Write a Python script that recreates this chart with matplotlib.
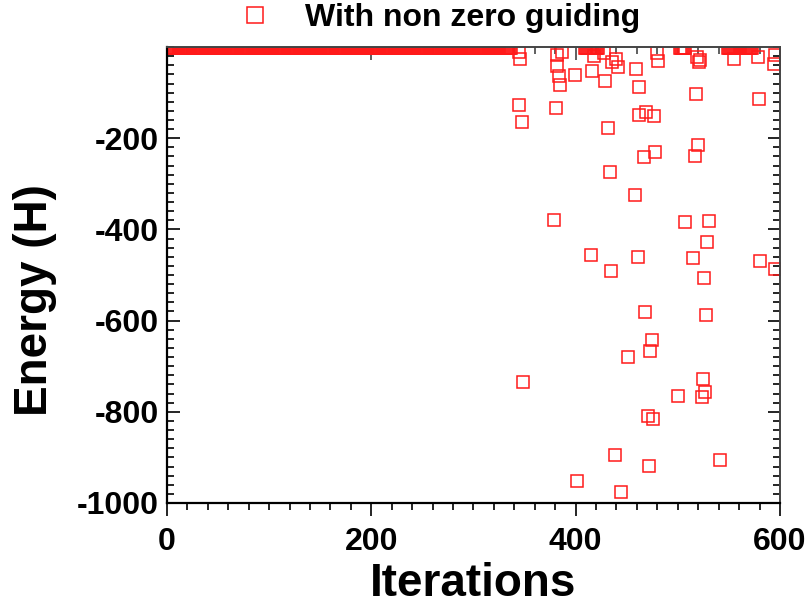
import numpy as np
import matplotlib
matplotlib.use("Agg")
import matplotlib.pyplot as plt
from matplotlib.ticker import MultipleLocator

plt.rcParams['font.family'] = ['Liberation Sans', 'DejaVu Sans']
plt.rcParams['font.weight'] = 'bold'
plt.rcParams['axes.unicode_minus'] = False

# runs of iterations where the energy stays at about zero
flat_runs = [(0, 337), (409, 422), (502, 507), (549, 573)]
flat_energy = -3.0

# scattered iterations with a non zero energy
iters = [345.0, 345.5, 386.3, 382.0, 383.4, 384.8, 381.7, 399.6, 416.2, 417.6,
         427.4, 428.5, 435.5, 441.6, 439.8, 459.3, 462.5, 479.6, 480.8, 518.7,
         520.3, 521.9, 517.5, 554.7, 578.5, 579.2, 594.1, 595.0,
         344.5, 347.5, 380.7, 431.3, 433.6, 462.2, 468.5, 476.7, 466.6, 477.6,
         516.8, 519.4, 458.4, 378.8, 507.3, 530.5, 528.5, 414.7, 460.7, 514.5,
         580.4, 595.1, 434.6, 525.6, 467.8, 527.8, 474.8, 472.8, 451.5, 348.4,
         524.6, 526.3, 523.6, 500.1, 470.7, 475.6, 438.5, 541.5, 471.8, 401.6,
         444.6]
energy = [-9.9, -25.7, -11.6, -40.6, -63.6, -83.3, -17.5, -62.1, -52.6, -19.7,
          -12.7, -75.0, -31.8, -44.3, -25.7, -47.8, -87.7, -13.2, -30.3, -21.9,
          -32.9, -27.4, -103.1, -26.8, -20.8, -113.4, -37.9, -17.5,
          -127.9, -163.8, -134.4, -176.5, -273.7, -149.8, -142.1, -152.2, -241.9, -229.6,
          -239.7, -215.6, -325.2, -378.7, -383.8, -381.6, -428.3, -455.5, -460.5, -462.1,
          -470.0, -487.5, -491.2, -506.6, -580.5, -587.1, -642.5, -667.3, -679.8, -735.3,
          -728.7, -756.6, -767.5, -766.0, -809.2, -815.8, -894.1, -906.4, -918.9, -951.1,
          -975.9]

x_flat = np.concatenate([np.arange(a, b + 1) for a, b in flat_runs])
y_flat = np.full(x_flat.shape, flat_energy)
x_all = np.concatenate([x_flat, iters])
y_all = np.concatenate([y_flat, energy])

fig = plt.figure(figsize=(8.07, 6.06), dpi=100)
ax = fig.add_axes([0.2069, 0.170, 0.7596, 0.7524])

line, = ax.plot(x_all, y_all, linestyle='none', marker='s', markersize=9.2,
                markerfacecolor='none', markeredgecolor='#ff1a1a',
                markeredgewidth=1.1, label='With non zero guiding')

ax.set_xlim(0, 600)
ax.set_ylim(-1000, 0)
ax.set_xticks([0, 200, 400, 600])
ax.set_yticks([-1000, -800, -600, -400, -200])
ax.xaxis.set_minor_locator(MultipleLocator(20))
ax.yaxis.set_minor_locator(MultipleLocator(20))

# bottom ticks outward, left/right inward
ax.tick_params(axis='both', which='both', labelsize=23, width=1.2)
ax.tick_params(axis='y', which='both', direction='in', left=True, right=True, pad=6)
ax.tick_params(axis='x', which='both', direction='out', bottom=True, top=False, pad=8)
ax.tick_params(which='major', length=9)
ax.tick_params(which='minor', length=5)

# inward ticks along the top edge
top = ax.secondary_xaxis('top')
top.set_xticks([0, 200, 400, 600])
top.xaxis.set_minor_locator(MultipleLocator(20))
top.tick_params(which='both', direction='in', labeltop=False, width=1.2,
                color='#444444')
top.tick_params(which='major', length=9)
top.tick_params(which='minor', length=5)
top.spines['top'].set_visible(False)

for side in ('left', 'bottom'):
    ax.spines[side].set_linewidth(1.6)
    ax.spines[side].set_color('black')
for side in ('top', 'right'):
    ax.spines[side].set_linewidth(1.4)
    ax.spines[side].set_color('#444444')

ax.set_xlabel('Iterations', fontsize=33, fontweight='bold', labelpad=4)
ax.set_ylabel('Energy (H)', fontsize=33, fontweight='bold')
ax.yaxis.set_label_coords(-0.18, 0.445)

fig.legend(handles=[line], loc='center', bbox_to_anchor=(0.545, 0.970),
           frameon=False, fontsize=23, handlelength=1.0, handletextpad=1.06,
           markerscale=1.2, numpoints=1, borderpad=0)

fig.savefig('out.png', dpi=100)
